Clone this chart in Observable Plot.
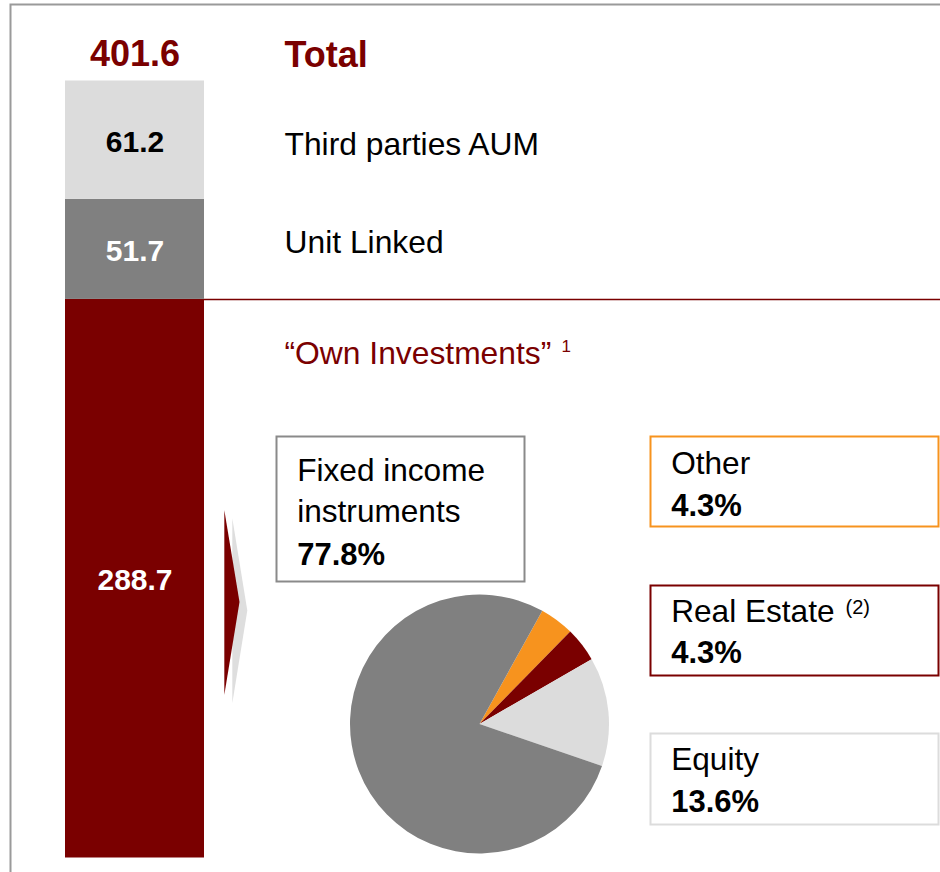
<!DOCTYPE html>
<html><head><meta charset="utf-8">
<script src="https://cdn.jsdelivr.net/npm/d3@7"></script>
<script src="https://cdn.jsdelivr.net/npm/@observablehq/plot@0.6"></script>
<style>
html,body{margin:0;padding:0;background:#fff;overflow:hidden;}
</style>
</head><body><div id="chart"></div>
<script>
// ---- data ----
const barCategories = ["“Own Investments”", "Unit Linked", "Third parties AUM"];
const barValues = [288.7, 51.7, 61.2];
const totalLabel = "Total";
const pieCategories = ["Other", "Real Estate", "Equity", "Fixed income instruments"];
const pieShares = [4.3, 4.3, 13.6, 77.8];
const footnotes = ["1", "(2)"];

// ---- style ----
const DARK_RED = "#7a0000", GRAY = "#808080", LIGHT = "#dcdcdc", ORANGE = "#f7931e";
const barColors = [DARK_RED, GRAY, LIGHT];
const barTextColors = ["white", "white", "black"];
const pieColors = [ORANGE, DARK_RED, LIGHT, GRAY];
const FONT = "'Liberation Sans', Arial, sans-serif";

const bars = barCategories.map((name, i) => ({name, value: barValues[i], i}));
const slices = pieCategories.map((name, i) => ({name, share: pieShares[i], i}));
const total = d3.sum(barValues);
const pct = v => v.toFixed(1) + "%";

// text positioned by its baseline (pixel layout)
function label(text, x, baseline, size, opts = {}) {
  return Plot.text([text], {
    frameAnchor: "top-left", dx: x, dy: baseline - 0.71 * size,
    lineAnchor: "top", textAnchor: "start", text: d => d,
    fontSize: size, fill: "black", fontFamily: FONT, ...opts
  });
}
function box(l, t, r, b, stroke) {
  return Plot.frame({stroke, strokeWidth: 2, insetLeft: l, insetTop: t, insetRight: 940 - r, insetBottom: 872 - b});
}

// pie as custom mark
const START = 29 * Math.PI / 180;
function pieMark(index, scales) {
  const cx = scales.x(479.5), cy = 724;
  const arcs = d3.pie().sort(null).value(d => d.share)
    .startAngle(START).endAngle(START + 2 * Math.PI)(slices);
  const arc = d3.arc().innerRadius(0).outerRadius(129.5);
  const g = d3.create("svg:g").attr("transform", `translate(${cx},${cy})`);
  g.selectAll("path").data(arcs).join("path")
    .attr("d", arc).attr("fill", d => pieColors[d.data.i]);
  return g.node();
}
function arrowMark() {
  const g = d3.create("svg:g");
  g.append("path").attr("d", "M232.3,518.3L247.3,610.5L232.3,703.3Z").attr("fill", "#dedede");
  g.append("path").attr("d", "M224.3,510L239.5,602L224.3,695Z").attr("fill", DARK_RED);
  return g.node();
}

const fixed = slices[3], other = slices[0], realEstate = slices[1], equity = slices[2];
const fixedWords = fixed.name.split(" ");

const chart = Plot.plot({
  width: 940, height: 872,
  margin: 0,
  style: {fontFamily: FONT, overflow: "hidden", background: "white"},
  x: {type: "linear", domain: [0, 940], range: [0, 940], axis: null},
  y: {type: "linear", domain: [0, total], range: [857.5, 80.5], axis: null},
  color: {type: "identity"},
  marks: [
    Plot.frame({stroke: "#9a9a9a", strokeWidth: 2, insetLeft: 10, insetTop: 4, insetRight: -20, insetBottom: -20}),
    Plot.rect(bars, Plot.stackY({x1: 65, x2: 204, y: "value", fill: d => barColors[d.i]})),
    Plot.text(bars, Plot.stackY({x: 134.5, y: "value", text: d => d.value.toFixed(1),
      fill: d => barTextColors[d.i], fontSize: 30, fontWeight: "bold", fontFamily: FONT, dy: 2, letterSpacing: "-0.5px"})),
    Plot.text([total], {x: 134.5, y: d => d, text: d => d.toFixed(1), fill: DARK_RED, fontSize: 36,
      fontWeight: "bold", fontFamily: FONT, lineAnchor: "top", dy: -40.5}),
    Plot.ruleY([barValues[0]], {x1: 204, x2: 940, stroke: DARK_RED, strokeWidth: 1.5}),
    label(totalLabel, 284, 66, 36, {fill: DARK_RED, fontWeight: "bold"}),
    label(barCategories[2], 284, 154, 31.8),
    label(barCategories[1], 284, 252.7, 31.8),
    label(barCategories[0], 284, 363.3, 31.8, {fill: DARK_RED}),
    label(footnotes[0], 561, 351.7, 17, {fill: DARK_RED}),
    arrowMark,
    box(276, 436, 524, 581, "#8a8a8a"),
    label(fixedWords.slice(0, 2).join(" "), 296.7, 480.7, 31.6),
    label(fixedWords.slice(2).join(" "), 296.7, 521, 31.6),
    label(pct(fixed.share), 296.7, 564, 31, {fontWeight: "bold"}),
    box(650, 436, 938, 526, ORANGE),
    label(other.name, 670.7, 473.3, 31.6),
    label(pct(other.share), 670.7, 515, 31, {fontWeight: "bold"}),
    box(650, 585, 938, 675, DARK_RED),
    label(realEstate.name, 670.7, 621, 31.6),
    label(footnotes[1], 845, 613.5, 20),
    label(pct(realEstate.share), 670.7, 662.7, 31, {fontWeight: "bold"}),
    box(650, 733, 938, 824, LIGHT),
    label(equity.name, 670.7, 769.3, 31.6),
    label(pct(equity.share), 670.7, 811.7, 31, {fontWeight: "bold"}),
    pieMark
  ]
});
document.getElementById("chart").append(chart);
</script>
</body></html>
